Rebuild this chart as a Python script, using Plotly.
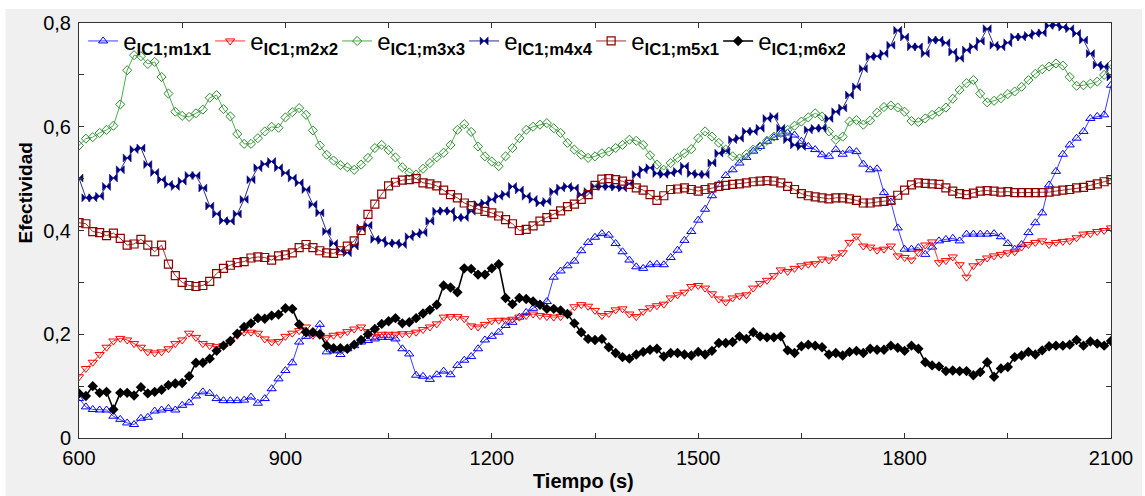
import plotly.graph_objects as go

tiempo = list(range(600, 2101, 10))

m1x1 = [
    0.076, 0.060, 0.055, 0.054, 0.054, 0.042, 0.036, 0.029, 0.026, 0.038,
    0.040, 0.052, 0.054, 0.057, 0.054, 0.063, 0.068, 0.081, 0.089, 0.086,
    0.076, 0.072, 0.072, 0.072, 0.073, 0.079, 0.067, 0.076, 0.095, 0.114,
    0.130, 0.145, 0.185, 0.196, 0.201, 0.219, 0.166, 0.168, 0.161, 0.172,
    0.178, 0.185, 0.188, 0.191, 0.194, 0.194, 0.191, 0.172, 0.162, 0.121,
    0.119, 0.113, 0.122, 0.129, 0.122, 0.140, 0.150, 0.157, 0.172, 0.189,
    0.196, 0.204, 0.217, 0.223, 0.233, 0.242, 0.250, 0.258, 0.263, 0.310,
    0.322, 0.332, 0.341, 0.361, 0.377, 0.387, 0.394, 0.391, 0.375, 0.359,
    0.343, 0.330, 0.327, 0.334, 0.335, 0.334, 0.348, 0.362, 0.381, 0.398,
    0.420, 0.441, 0.467, 0.489, 0.506, 0.517, 0.530, 0.541, 0.553, 0.562,
    0.572, 0.579, 0.586, 0.588, 0.584, 0.572, 0.562, 0.556, 0.546, 0.543,
    0.556, 0.547, 0.555, 0.552, 0.528, 0.517, 0.519, 0.473, 0.455, 0.405,
    0.364, 0.364, 0.367, 0.354, 0.368, 0.380, 0.383, 0.385, 0.380, 0.393,
    0.393, 0.393, 0.393, 0.394, 0.388, 0.375, 0.364, 0.373, 0.396, 0.415,
    0.434, 0.488, 0.514, 0.547, 0.565, 0.578, 0.591, 0.616, 0.620, 0.623,
    0.680,
]

m2x2 = [
    0.118, 0.134, 0.146, 0.161, 0.175, 0.187, 0.192, 0.189, 0.182, 0.175,
    0.166, 0.164, 0.166, 0.172, 0.182, 0.189, 0.202, 0.194, 0.182, 0.178,
    0.176, 0.178, 0.185, 0.198, 0.204, 0.204, 0.202, 0.191, 0.185, 0.186,
    0.196, 0.202, 0.207, 0.214, 0.198, 0.198, 0.194, 0.198, 0.200, 0.205,
    0.210, 0.214, 0.205, 0.196, 0.200, 0.200, 0.200, 0.201, 0.201, 0.204,
    0.209, 0.214, 0.220, 0.233, 0.234, 0.234, 0.230, 0.216, 0.214, 0.219,
    0.226, 0.227, 0.227, 0.229, 0.233, 0.236, 0.239, 0.236, 0.234, 0.233,
    0.234, 0.239, 0.253, 0.257, 0.254, 0.246, 0.236, 0.240, 0.247, 0.249,
    0.239, 0.234, 0.244, 0.251, 0.255, 0.258, 0.270, 0.276, 0.281, 0.292,
    0.294, 0.289, 0.278, 0.268, 0.262, 0.270, 0.274, 0.276, 0.289, 0.298,
    0.304, 0.313, 0.324, 0.321, 0.327, 0.332, 0.335, 0.336, 0.345, 0.343,
    0.349, 0.357, 0.377, 0.389, 0.370, 0.368, 0.362, 0.364, 0.370, 0.351,
    0.348, 0.343, 0.357, 0.372, 0.378, 0.338, 0.342, 0.349, 0.334, 0.310,
    0.332, 0.340, 0.347, 0.351, 0.354, 0.357, 0.359, 0.368, 0.373, 0.377,
    0.380, 0.373, 0.377, 0.379, 0.380, 0.386, 0.393, 0.394, 0.398, 0.400,
    0.405,
]

m3x3 = [
    0.564, 0.577, 0.580, 0.588, 0.594, 0.602, 0.643, 0.709, 0.738, 0.736,
    0.721, 0.725, 0.696, 0.664, 0.629, 0.621, 0.619, 0.626, 0.633, 0.656,
    0.661, 0.634, 0.620, 0.586, 0.567, 0.567, 0.578, 0.591, 0.600, 0.598,
    0.618, 0.628, 0.636, 0.623, 0.593, 0.564, 0.546, 0.535, 0.526, 0.522,
    0.517, 0.527, 0.540, 0.559, 0.565, 0.555, 0.541, 0.522, 0.512, 0.508,
    0.519, 0.530, 0.541, 0.550, 0.565, 0.594, 0.605, 0.590, 0.562, 0.543,
    0.533, 0.524, 0.543, 0.559, 0.578, 0.594, 0.600, 0.604, 0.607, 0.597,
    0.588, 0.569, 0.556, 0.546, 0.540, 0.543, 0.549, 0.552, 0.559, 0.565,
    0.575, 0.573, 0.565, 0.545, 0.527, 0.517, 0.530, 0.540, 0.549, 0.557,
    0.578, 0.591, 0.581, 0.569, 0.556, 0.543, 0.539, 0.547, 0.556, 0.562,
    0.573, 0.581, 0.588, 0.594, 0.602, 0.610, 0.618, 0.626, 0.620, 0.591,
    0.575, 0.581, 0.610, 0.613, 0.604, 0.612, 0.627, 0.638, 0.641, 0.637,
    0.629, 0.611, 0.609, 0.616, 0.623, 0.629, 0.637, 0.654, 0.671, 0.684,
    0.690, 0.664, 0.647, 0.650, 0.655, 0.663, 0.668, 0.677, 0.690, 0.702,
    0.711, 0.716, 0.722, 0.718, 0.696, 0.679, 0.680, 0.683, 0.687, 0.700,
    0.720,
]

m4x4 = [
    0.501, 0.463, 0.463, 0.466, 0.485, 0.501, 0.517, 0.540, 0.556, 0.559,
    0.527, 0.512, 0.498, 0.489, 0.485, 0.495, 0.506, 0.506, 0.482, 0.447,
    0.432, 0.419, 0.418, 0.432, 0.460, 0.498, 0.521, 0.528, 0.533, 0.521,
    0.511, 0.501, 0.492, 0.479, 0.450, 0.434, 0.398, 0.375, 0.361, 0.357,
    0.370, 0.405, 0.410, 0.383, 0.381, 0.375, 0.376, 0.373, 0.388, 0.393,
    0.396, 0.418, 0.437, 0.438, 0.437, 0.425, 0.425, 0.437, 0.450, 0.453,
    0.460, 0.466, 0.470, 0.485, 0.478, 0.466, 0.460, 0.453, 0.456, 0.475,
    0.482, 0.485, 0.482, 0.469, 0.475, 0.485, 0.485, 0.485, 0.484, 0.482,
    0.490, 0.508, 0.517, 0.521, 0.510, 0.508, 0.511, 0.514, 0.524, 0.510,
    0.508, 0.508, 0.530, 0.549, 0.553, 0.575, 0.578, 0.591, 0.591, 0.597,
    0.616, 0.620, 0.597, 0.575, 0.565, 0.562, 0.594, 0.597, 0.597, 0.616,
    0.629, 0.636, 0.661, 0.677, 0.712, 0.735, 0.736, 0.741, 0.757, 0.786,
    0.773, 0.754, 0.754, 0.741, 0.767, 0.767, 0.762, 0.744, 0.732, 0.748,
    0.754, 0.765, 0.789, 0.757, 0.754, 0.762, 0.773, 0.773, 0.776, 0.780,
    0.781, 0.795, 0.796, 0.792, 0.789, 0.780, 0.767, 0.741, 0.719, 0.716,
    0.696,
]

m5x1 = [
    0.415, 0.413, 0.398, 0.396, 0.390, 0.395, 0.385, 0.372, 0.374, 0.383,
    0.372, 0.359, 0.372, 0.335, 0.313, 0.300, 0.294, 0.292, 0.294, 0.302,
    0.317, 0.327, 0.333, 0.338, 0.340, 0.347, 0.349, 0.348, 0.343, 0.351,
    0.353, 0.357, 0.367, 0.373, 0.367, 0.361, 0.357, 0.356, 0.361, 0.370,
    0.380, 0.400, 0.431, 0.451, 0.470, 0.486, 0.493, 0.497, 0.498, 0.500,
    0.492, 0.490, 0.486, 0.478, 0.469, 0.463, 0.453, 0.448, 0.441, 0.437,
    0.434, 0.428, 0.421, 0.413, 0.400, 0.402, 0.409, 0.418, 0.425, 0.431,
    0.438, 0.446, 0.451, 0.460, 0.469, 0.487, 0.499, 0.500, 0.498, 0.495,
    0.489, 0.482, 0.478, 0.469, 0.458, 0.467, 0.479, 0.480, 0.482, 0.479,
    0.476, 0.479, 0.482, 0.485, 0.487, 0.489, 0.490, 0.492, 0.494, 0.495,
    0.496, 0.495, 0.492, 0.485, 0.479, 0.471, 0.467, 0.465, 0.463, 0.461,
    0.463, 0.463, 0.461, 0.458, 0.453, 0.453, 0.455, 0.456, 0.458, 0.468,
    0.478, 0.488, 0.492, 0.491, 0.490, 0.489, 0.482, 0.476, 0.471, 0.469,
    0.472, 0.476, 0.477, 0.476, 0.474, 0.475, 0.473, 0.473, 0.473, 0.473,
    0.473, 0.474, 0.476, 0.478, 0.479, 0.482, 0.483, 0.487, 0.490, 0.494,
    0.498,
]

m6x2 = [
    0.086, 0.081, 0.100, 0.087, 0.089, 0.055, 0.087, 0.087, 0.082, 0.098,
    0.086, 0.089, 0.093, 0.102, 0.105, 0.106, 0.119, 0.145, 0.145, 0.153,
    0.168, 0.178, 0.187, 0.201, 0.214, 0.221, 0.231, 0.230, 0.236, 0.238,
    0.250, 0.249, 0.219, 0.204, 0.204, 0.200, 0.178, 0.173, 0.173, 0.172,
    0.180, 0.189, 0.200, 0.210, 0.220, 0.225, 0.231, 0.221, 0.223, 0.231,
    0.240, 0.247, 0.257, 0.294, 0.290, 0.281, 0.327, 0.326, 0.315, 0.315,
    0.327, 0.335, 0.270, 0.258, 0.270, 0.268, 0.263, 0.257, 0.249, 0.249,
    0.246, 0.239, 0.221, 0.204, 0.191, 0.189, 0.191, 0.175, 0.164, 0.156,
    0.153, 0.161, 0.166, 0.170, 0.172, 0.157, 0.164, 0.164, 0.161, 0.159,
    0.166, 0.161, 0.168, 0.183, 0.183, 0.185, 0.196, 0.191, 0.204, 0.196,
    0.194, 0.194, 0.196, 0.169, 0.164, 0.177, 0.180, 0.178, 0.175, 0.161,
    0.164, 0.159, 0.166, 0.168, 0.164, 0.172, 0.170, 0.170, 0.178, 0.174,
    0.168, 0.178, 0.172, 0.146, 0.140, 0.138, 0.129, 0.130, 0.129, 0.129,
    0.121, 0.127, 0.146, 0.118, 0.134, 0.137, 0.156, 0.159, 0.166, 0.161,
    0.169, 0.177, 0.178, 0.178, 0.180, 0.189, 0.178, 0.186, 0.182, 0.178,
    0.187,
]

names = ["m1x1", "m2x2", "m3x3", "m4x4", "m5x1", "m6x2"]
series = [m1x1, m2x2, m3x3, m4x4, m5x1, m6x2]

x_tickvals = list(range(600, 2101, 150))
x_ticktext = ["600", "", "900", "", "1200", "", "1500", "", "1800", "", "2100"]
y_tickvals = [0, 0.1, 0.2, 0.3, 0.4, 0.5, 0.6, 0.7, 0.8]
y_ticktext = ["0", "", "0,2", "", "0,4", "", "0,6", "", "0,8"]

styles = [
    dict(line=dict(color="#3c3cff", width=1),
         marker=dict(symbol="triangle-up-open", size=8, color="#0000ff", line=dict(width=1, color="#0000ff"))),
    dict(line=dict(color="#ff3030", width=1),
         marker=dict(symbol="triangle-down-open", size=8, color="#ff0000", line=dict(width=1, color="#ff0000"))),
    dict(line=dict(color="#4cae4c", width=1),
         marker=dict(symbol="diamond-open", size=7, color="#2e8b2e", line=dict(width=1, color="#2e8b2e"))),
    dict(line=dict(color="#2b2b8c", width=1),
         marker=dict(symbol="bowtie", size=8, color="#000080", line=dict(width=0.5, color="#000080"))),
    dict(line=dict(color="#a03030", width=1),
         marker=dict(symbol="square-open", size=8, color="#8b0000", line=dict(width=1.2, color="#8b0000"))),
    dict(line=dict(color="#000000", width=1.6),
         marker=dict(symbol="diamond", size=8, color="#000000", line=dict(width=0, color="#000000"))),
]

fig = go.Figure()
for nm, ys, st in zip(names, series, styles):
    fig.add_trace(go.Scatter(
        x=tiempo, y=ys, mode="lines+markers",
        name="e<sub><b>IC1;" + nm + "</b></sub>",
        line=st["line"], marker=st["marker"],
    ))

font_family = "Liberation Sans, Arial, sans-serif"
fig.update_layout(
    width=1145, height=496,
    margin=dict(l=79, r=26, t=21, b=58),
    paper_bgcolor="#ffffff",
    plot_bgcolor="#ffffff",
    font=dict(family=font_family, size=20, color="#000000"),
    showlegend=True,
    legend=dict(
        orientation="h", x=0.004, y=1.01, xanchor="left", yanchor="top",
        bgcolor="rgba(0,0,0,0)", font=dict(size=24, family=font_family),
        entrywidth=82, itemwidth=30, tracegroupgap=0,
    ),
    xaxis=dict(
        range=[600, 2100], tickvals=x_tickvals, ticktext=x_ticktext,
        ticks="inside", ticklen=5, tickcolor="#333333",
        showline=True, linecolor="#333333", linewidth=1, mirror="ticks",
        showgrid=False, zeroline=False,
        tickfont=dict(size=20), ticklabelstandoff=2,
    ),
    yaxis=dict(
        range=[0, 0.8], tickvals=y_tickvals, ticktext=y_ticktext,
        ticks="inside", ticklen=5, tickcolor="#333333",
        showline=True, linecolor="#333333", linewidth=1, mirror="ticks",
        showgrid=False, zeroline=False,
        tickfont=dict(size=20), ticklabelstandoff=3,
    ),
    shapes=[
        dict(type="rect", xref="paper", yref="paper", layer="below",
             x0=-0.0712, x1=1.03, y0=-0.15, y1=1.0336,
             fillcolor="#f0f0f0", line=dict(width=0)),
        dict(type="rect", xref="paper", yref="paper", layer="below",
             x0=0, x1=1, y0=0, y1=1,
             fillcolor="#ffffff", line=dict(width=0)),
    ],
    annotations=[
        dict(text="<b>Tiempo (s)</b>", xref="paper", yref="paper",
             x=0.4885, y=-0.103, xanchor="center", yanchor="middle",
             showarrow=False, font=dict(size=20, family=font_family)),
        dict(text="<b>Efectividad</b>", xref="paper", yref="paper",
             x=-0.052, y=0.59, xanchor="center", yanchor="middle", textangle=-90,
             showarrow=False, font=dict(size=19, family=font_family)),
    ],
)

fig.write_html("out.html")
